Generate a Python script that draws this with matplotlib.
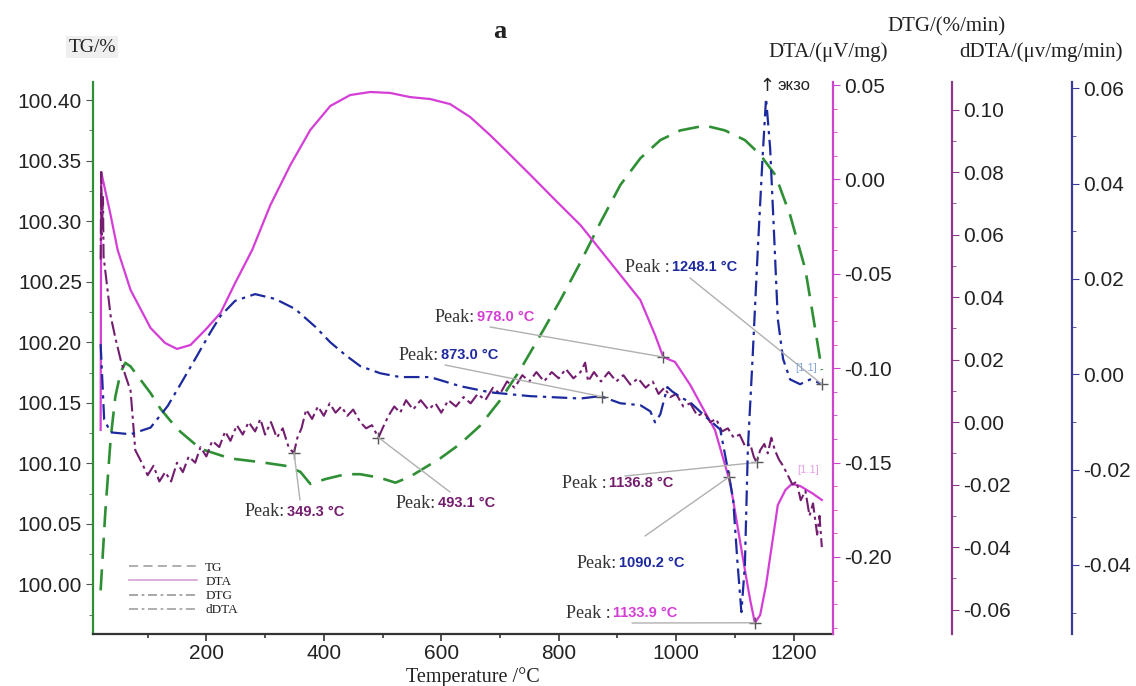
import numpy as np
import matplotlib
matplotlib.use('Agg')
import matplotlib.pyplot as plt
from matplotlib.lines import Line2D
from matplotlib.ticker import MultipleLocator, FormatStrFormatter

plt.rcParams['font.family'] = ['Liberation Sans', 'DejaVu Sans']

# ---- data ----
tg_temp = [20, 28, 37, 45, 54, 62, 71, 88, 105, 122, 139, 156, 190, 241, 292, 334, 360, 377,
           403, 437, 462, 496, 522, 547, 564, 598, 632, 666, 700, 734, 769, 803, 837, 871,
           905, 939, 973, 1007, 1049, 1083, 1117, 1143, 1169, 1194, 1220, 1237, 1248]
tg_val = [99.995, 100.06, 100.12, 100.155, 100.175, 100.183, 100.180, 100.169, 100.158, 100.145,
          100.135, 100.126, 100.112, 100.104, 100.101, 100.098, 100.093, 100.083, 100.087,
          100.091, 100.091, 100.088, 100.084, 100.089, 100.094, 100.104, 100.116, 100.131,
          100.152, 100.177, 100.206, 100.235, 100.266, 100.299, 100.330, 100.352, 100.367,
          100.375, 100.379, 100.375, 100.367, 100.355, 100.338, 100.305, 100.260, 100.210,
          100.177]

dta_temp = [20, 21, 37, 49, 71, 105, 130, 150, 173, 198, 224, 249, 278, 309, 343, 377, 411,
            445, 479, 513, 547, 581, 615, 649, 683, 709, 752, 794, 837, 871, 905, 939, 964,
            978, 998, 1024, 1049, 1066, 1092, 1117, 1126, 1134, 1143, 1153, 1163, 1173, 1186,
            1197, 1211, 1231, 1248]
dta_val = [-0.1327, 0.0039, -0.0189, -0.0374, -0.0586, -0.0787, -0.0867, -0.0898, -0.0877,
           -0.0798, -0.0708, -0.0549, -0.0374, -0.0136, 0.0076, 0.0262, 0.0389, 0.0447, 0.0463,
           0.0458, 0.0436, 0.0426, 0.0399, 0.0331, 0.0235, 0.0156, 0.0023, -0.0109, -0.0242,
           -0.0374, -0.0506, -0.0639, -0.0824, -0.0941, -0.0967, -0.1089, -0.1232, -0.1327,
           -0.1608, -0.2069, -0.2228, -0.2350, -0.2307, -0.2148, -0.1936, -0.1725, -0.1645,
           -0.1613, -0.1624, -0.1661, -0.1698]

dtg_temp = [20, 26, 37, 71, 105, 134, 156, 181, 207, 224, 249, 283, 317, 351, 386, 411, 437,
            462, 496, 530, 581, 632, 683, 751, 837, 871, 905, 939, 956, 964, 973, 985, 993,
            1007, 1024, 1049, 1075, 1088, 1097, 1104, 1111, 1117, 1122, 1130, 1139, 1147, 1153,
            1160, 1167, 1173, 1182, 1194, 1211, 1228, 1241, 1248]
dtg_val = [0.0063, -0.0095, -0.0122, -0.0126, -0.0112, -0.0067, -0.0021, 0.0032, 0.0088,
           0.0122, 0.0154, 0.0168, 0.0158, 0.0137, 0.0099, 0.0067, 0.0040, 0.0017, 0.0002,
           -0.0006, -0.0006, -0.0025, -0.0038, -0.0046, -0.0051, -0.0046, -0.0061, -0.0065,
           -0.0078, -0.0101, -0.0084, -0.0027, -0.0036, -0.0048, -0.0059, -0.0088, -0.0116,
           -0.0200, -0.0263, -0.0389, -0.0499, -0.0400, -0.0158, 0.0032, 0.0263, 0.0453, 0.0579,
           0.0474, 0.0284, 0.0116, 0.0032, -0.0011, -0.0021, -0.0011, -0.0017, -0.0021]

ddta_temp = [20, 21, 22, 24, 25, 30, 37, 45, 54, 62, 71, 79, 90, 100, 110, 120, 130, 140, 150,
             160, 170, 181, 190, 200, 210, 222, 232, 241, 252, 262, 272, 283, 292, 300, 310,
             320, 330, 340, 349, 355, 362, 370, 380, 390, 400, 410, 420, 430, 440, 450, 462,
             472, 482, 493, 500, 510, 520, 530, 540, 552, 565, 578, 590, 600, 612, 625, 638,
             650, 662, 675, 688, 700, 712, 725, 738, 750, 762, 775, 788, 800, 812, 825, 837,
             845, 850, 860, 872, 885, 898, 910, 922, 935, 948, 960, 970, 980, 990, 1000, 1012,
             1024, 1036, 1048, 1058, 1068, 1078, 1088, 1098, 1108, 1118, 1126, 1132, 1137,
             1143, 1150, 1156, 1162, 1168, 1175, 1182, 1190, 1198, 1205, 1212, 1220, 1227,
             1233, 1240, 1244, 1248]
ddta_val = [0.052, 0.080, 0.060, 0.072, 0.053, 0.045, 0.034, 0.027, 0.020, 0.015, 0.010,
            -0.009, -0.013, -0.017, -0.014, -0.019, -0.016, -0.019, -0.013, -0.016, -0.011,
            -0.013, -0.008, -0.011, -0.006, -0.008, -0.003, -0.006, -0.001, -0.004, 0.000,
            -0.003, 0.001, -0.004, 0.000, -0.005, -0.002, -0.008, -0.010, -0.005, -0.002,
            0.004, 0.001, 0.005, 0.002, 0.006, 0.003, 0.005, 0.002, 0.004, 0.000, -0.002,
            -0.001, -0.005, -0.002, 0.002, 0.005, 0.003, 0.007, 0.004, 0.007, 0.004, 0.006,
            0.003, 0.007, 0.005, 0.008, 0.006, 0.009, 0.007, 0.011, 0.009, 0.013, 0.011,
            0.015, 0.013, 0.016, 0.013, 0.016, 0.014, 0.017, 0.014, 0.016, 0.019, 0.013,
            0.016, 0.013, 0.016, 0.013, 0.015, 0.012, 0.014, 0.011, 0.013, 0.009, 0.011,
            0.008, 0.009, 0.005, 0.006, 0.002, 0.003, 0.000, 0.001, -0.003, -0.002, -0.005,
            -0.004, -0.008, -0.007, -0.011, -0.013, -0.009, -0.007, -0.010, -0.005, -0.009,
            -0.012, -0.014, -0.017, -0.020, -0.019, -0.025, -0.022, -0.030, -0.026, -0.036,
            -0.030, -0.040]

# peak annotations: (temperature, curve, label text)
peaks = [
    (349.3, 'ddta', '349.3 °C'),
    (493.1, 'ddta', '493.1 °C'),
    (873.0, 'dtg', '873.0 °C'),
    (978.0, 'dta', '978.0 °C'),
    (1248.1, 'dtg', '1248.1 °C'),
    (1136.8, 'ddta', '1136.8 °C'),
    (1090.2, 'dtg', '1090.2 °C'),
    (1133.9, 'dta', '1133.9 °C'),
]

# colours
c_tg = '#2f8f35'
c_dta = '#d43ed6'
c_dtg = '#1c2a9e'
c_ddta = '#731d6e'
c_txt = '#222222'

W, H = 1136, 686
fig = plt.figure(figsize=(W / 100, H / 100), dpi=100)
ax = fig.add_axes([93 / W, 1 - 634 / H, 740 / W, 552 / H])
ax_dta = ax.twinx()
ax_ddta = ax.twinx()
ax_dtg = ax.twinx()


def fpos(x, y):
    return (x / W, 1 - y / H)


# curves
ax.plot(tg_temp, tg_val, color=c_tg, lw=1.9, dashes=(8, 4))
ax_dta.plot(dta_temp, dta_val, color=c_dta, lw=1.6)
ax_dtg.plot(dtg_temp, dtg_val, color=c_dtg, lw=1.6, dashes=(7, 2.5, 1.5, 2.5))
ax_ddta.plot(ddta_temp, ddta_val, color=c_ddta, lw=1.5, dashes=(7, 2, 1.5, 2))

# limits
ax.set_xlim(7, 1267)
ax.set_ylim(99.959, 100.415)
ax_dta.set_ylim(-0.2408, 0.0516)
ax_ddta.set_ylim(-0.0678, 0.1088)
ax_dtg.set_ylim(-0.0545, 0.0613)

# spines
for a in (ax, ax_dta, ax_ddta, ax_dtg):
    for s in a.spines.values():
        s.set_visible(False)
ax.spines['left'].set_visible(True)
ax.spines['left'].set_color(c_tg)
ax.spines['bottom'].set_visible(True)
ax.spines['bottom'].set_color('#333333')
ax_dta.spines['right'].set_visible(True)
ax_dta.spines['right'].set_color('#cc44cc')
ax_ddta.spines['right'].set_visible(True)
ax_ddta.spines['right'].set_position(('axes', 1.161))
ax_ddta.spines['right'].set_color('#8a3a8a')
ax_dtg.spines['right'].set_visible(True)
ax_dtg.spines['right'].set_position(('axes', 1.323))
ax_dtg.spines['right'].set_color('#3a3a9a')
for a in (ax, ax_dta, ax_ddta, ax_dtg):
    for s in a.spines.values():
        s.set_linewidth(1.6)

# ticks
ax.xaxis.set_major_locator(MultipleLocator(200))
ax.xaxis.set_minor_locator(MultipleLocator(100))
ax.yaxis.set_major_locator(MultipleLocator(0.05))
ax.yaxis.set_minor_locator(MultipleLocator(0.025))
ax.yaxis.set_major_formatter(FormatStrFormatter('%.2f'))
ax_dta.yaxis.set_major_locator(MultipleLocator(0.05))
ax_dta.yaxis.set_minor_locator(MultipleLocator(0.0125))
ax_dta.yaxis.set_major_formatter(FormatStrFormatter('%.2f'))
for a in (ax_ddta, ax_dtg):
    a.yaxis.set_major_locator(MultipleLocator(0.02))
    a.yaxis.set_minor_locator(MultipleLocator(0.01))
    a.yaxis.set_major_formatter(FormatStrFormatter('%.2f'))

ax.tick_params(axis='x', which='both', direction='out', labelsize=15, colors='#333333',
               labelcolor=c_txt, pad=2)
ax.tick_params(axis='x', which='major', length=5, width=1.2)
ax.tick_params(axis='x', which='minor', length=3, width=1.2)
ax.tick_params(axis='y', which='both', direction='out', labelsize=15, colors='#555555',
               labelcolor=c_txt, pad=3)
ax.tick_params(axis='y', which='major', length=5)
ax.tick_params(axis='y', which='minor', length=3)
for a, col in ((ax_dta, '#cc44cc'), (ax_ddta, '#8a3a8a'), (ax_dtg, '#3a3a9a')):
    a.tick_params(axis='y', which='both', direction='out', labelsize=15, colors=col,
                  labelcolor=c_txt, pad=3, left=False, labelleft=False,
                  right=True, labelright=True)
    a.tick_params(axis='y', which='major', length=5)
    a.tick_params(axis='y', which='minor', length=3)

# axis titles
serif = ['Liberation Serif', 'DejaVu Serif']
fig.text(*fpos(92, 47), 'TG/%', family=serif, fontsize=14, color=c_txt, ha='center',
         va='center', bbox=dict(facecolor='#efefef', edgecolor='none', pad=2))
fig.text(*fpos(500, 32), 'a', family=serif, fontsize=19, fontweight='bold', color=c_txt,
         ha='center', va='center')
fig.text(*fpos(828, 52), 'DTA/(μV/mg)', family=serif, fontsize=15, color=c_txt,
         ha='center', va='center')
fig.text(*fpos(946, 27), 'DTG/(%/min)', family=serif, fontsize=15, color=c_txt,
         ha='center', va='center')
fig.text(*fpos(1041, 52), 'dDTA/(μv/mg/min)', family=serif, fontsize=15, color=c_txt,
         ha='center', va='center')
fig.text(*fpos(473, 677), 'Temperature /°C', family=serif, fontsize=14.5, color=c_txt,
         ha='center', va='center')
fig.text(*fpos(767, 86), '↑', fontsize=13, color=c_txt, ha='center', va='center',
         family=['DejaVu Sans'])
fig.text(*fpos(777, 86), 'экзо', fontsize=12, color=c_txt, ha='left', va='center')

# peak annotations
curves = {
    'dta': (ax_dta, dta_temp, dta_val, c_dta),
    'dtg': (ax_dtg, dtg_temp, dtg_val, c_dtg),
    'ddta': (ax_ddta, ddta_temp, ddta_val, c_ddta),
}
# label anchor (end of "Peak:", text centre y) and line start, in picture pixels
label_px = [((285, 512), (300, 500), 'Peak:'),
            ((436, 503), (450, 492), 'Peak:'),
            ((439, 355), (445, 365), 'Peak:'),
            ((475, 317), (490, 327), 'Peak:'),
            ((670, 267), (690, 278), 'Peak :'),
            ((607, 483), (625, 476), 'Peak :'),
            ((617, 563), (645, 536), 'Peak:'),
            ((611, 613), (632, 623), 'Peak :')]
for (temp, key, txt), ((lx, ly), (sx, sy), word) in zip(peaks, label_px):
    a, tt, vv, col = curves[key]
    yv = np.interp(temp, tt, vv)
    a.annotate('', xy=(temp, yv), xycoords='data', xytext=fpos(sx, sy),
               textcoords='figure fraction',
               arrowprops=dict(arrowstyle='-', color='#b0b0b0', lw=1.0,
                               shrinkA=0, shrinkB=0))
    a.plot([temp], [yv], marker='+', ms=9, mew=1.0, color='#555555')
    fig.text(*fpos(lx, ly), word, family=serif, fontsize=13, color='#333333',
             ha='right', va='center')
    fig.text(*fpos(lx + 2, ly), txt, fontsize=10.5, fontweight='bold', color=col,
             ha='left', va='center')

fig.text(*fpos(806, 368), '[1.1]', fontsize=8, color='#8aa6d8', ha='center', va='center')
fig.text(*fpos(808, 470), '[1.1]', fontsize=8, color='#e6a0e6', ha='center', va='center')

# legend
handles = [Line2D([], [], color='#a8a8a8', lw=1.3, dashes=(5, 3)),
           Line2D([], [], color='#d8a8d8', lw=1.3),
           Line2D([], [], color='#a0a0a0', lw=1.3, dashes=(5, 2, 1.5, 2)),
           Line2D([], [], color='#a8a8a8', lw=1.3, dashes=(5, 2, 1.5, 2))]
fig.legend(handles, ['TG', 'DTA', 'DTG', 'dDTA'], loc='upper left',
           bbox_to_anchor=fpos(122, 555), frameon=False, borderpad=0,
           prop={'family': serif, 'size': 9.5}, handlelength=5.2, handletextpad=0.6,
           labelspacing=0.15, labelcolor=c_txt)

fig.savefig('out.png', dpi=100)
